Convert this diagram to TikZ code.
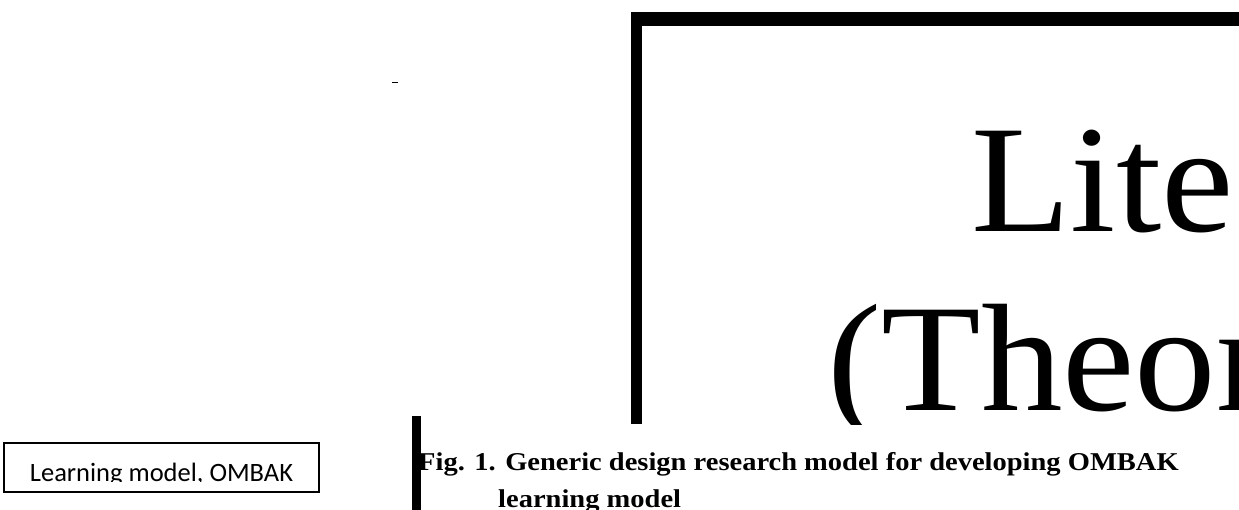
\documentclass[tikz,border=0pt]{standalone}
\usepackage{fontspec}
\setmainfont{Liberation Serif}
\newfontfamily\calibri{Carlito}
\usepackage{tikz}

\tikzset{
  bigword/.style={anchor=base west, inner sep=0pt, font=\fontsize{163}{163}\selectfont},
  capword/.style={anchor=base west, inner sep=0pt, font=\fontsize{28.5}{28.5}\selectfont\bfseries},
  modelbox/.style={draw, line width=1.5pt, minimum width=315pt, minimum height=49pt, inner sep=0pt}
}

\begin{document}
\begin{tikzpicture}[x=1pt, y=-1pt]
\useasboundingbox (0,0) rectangle (1239,510);

\fill[black] (631,12) rectangle (1239,26);
\fill[black] (631,12) rectangle (642,424);

\begin{scope}
\clip (631,0) rectangle (1239,424);
\node[bigword] (lite)  at (971,232) {\scalebox{1}[0.94]{Lite}};
\node[bigword] (theor) at (827,410) {\scalebox{1}[0.94]{(Theor}};
\end{scope}

\draw[line width=1pt] (392,83) -- (398,83);

\node[modelbox] (ombak) at (161.5,467.5) {};
\begin{scope}
\clip (0,443) rectangle (319,481);
\node[anchor=base, inner sep=0pt, font=\calibri\fontsize{26.5}{26.5}\selectfont] (ombaktext) at (161.5,481) {Learning model, OMBAK};
\end{scope}

\fill[black] (412,416) rectangle (421,510);
\begin{scope}
\clip (421,420) rectangle (1239,510);
\node[capword] (capone) at (418,470) {\scalebox{1}[0.9]{Fig. 1. Generic design research model for developing OMBAK}};
\node[capword] (captwo) at (498,507) {\scalebox{1}[0.9]{learning model}};
\end{scope}

\end{tikzpicture}
\end{document}
